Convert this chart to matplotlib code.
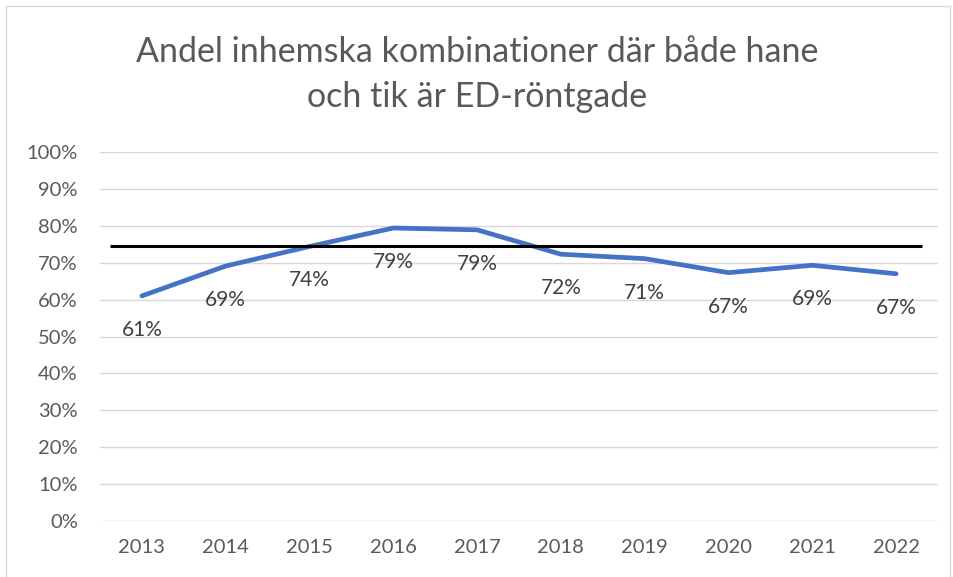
import matplotlib.pyplot as plt
from matplotlib.patches import Rectangle
from matplotlib.ticker import PercentFormatter

years = ['2013', '2014', '2015', '2016', '2017', '2018', '2019', '2020', '2021', '2022']
share = [0.610, 0.691, 0.744, 0.794, 0.789, 0.723, 0.711, 0.673, 0.693, 0.670]
labels = ['61%', '69%', '74%', '79%', '79%', '72%', '71%', '67%', '69%', '67%']
target = 0.745

plt.rcParams['font.family'] = ['Lato', 'DejaVu Sans']

fig = plt.figure(figsize=(9.54, 5.77), dpi=100)
ax = fig.add_axes([100 / 954, 1 - 521 / 577, 838 / 954, 369 / 577])

x = list(range(len(years)))
ax.plot(x, share, color='#4472C4', lw=3.4, solid_capstyle='round', solid_joinstyle='round', zorder=3)
ax.hlines(target, -0.38, 9.31, color='black', lw=2.2, zorder=4)

for xi, v, lab in zip(x, share, labels):
    ax.annotate(lab, (xi, v), xytext=(0, -34), textcoords='offset pixels',
                ha='center', va='center', fontsize=15, color='#404040')

ax.set_xlim(-0.5, 9.5)
ax.set_ylim(0, 1)
ax.set_xticks(x)
ax.set_xticklabels(years)
ax.set_yticks([i / 10 for i in range(11)])
ax.yaxis.set_major_formatter(PercentFormatter(1.0, decimals=0))
ax.grid(axis='y', color='#D9D9D9', lw=1)
ax.set_axisbelow(True)
for s in ax.spines.values():
    s.set_visible(False)
ax.tick_params(length=0, labelsize=14.5, colors='#595959')
ax.tick_params(axis='y', pad=16)
ax.tick_params(axis='x', pad=13)

fig.text(0.5, 1 - 52 / 577, 'Andel inhemska kombinationer där både hane', ha='center', va='center',
         fontsize=24.5, color='#595959')
fig.text(0.5, 1 - 97 / 577, 'och tik är ED-röntgade', ha='center', va='center',
         fontsize=24.5, color='#595959')

fig.patches.append(Rectangle((6 / 954, -0.01), 0.99, 1 - 6 / 577 + 0.01, transform=fig.transFigure,
                             fill=False, edgecolor='#D9D9D9', lw=1))

fig.savefig('out.png', dpi=100)
